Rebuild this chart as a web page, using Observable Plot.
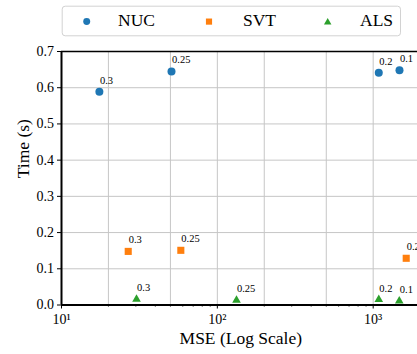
<!DOCTYPE html>
<html>
<head>
<meta charset="utf-8">
<script src="https://cdn.jsdelivr.net/npm/d3@7"></script>
<script src="https://cdn.jsdelivr.net/npm/@observablehq/plot@0.6"></script>
<style>
html, body { margin: 0; padding: 0; background: #fff; overflow: hidden; }
#legend svg, #chart svg { display: block; }
#legend svg, #legend svg text, #chart svg, #chart svg text, #chart svg g {
  font-family: "Liberation Serif", "Times New Roman", serif !important;
  font-variant: normal !important;
}
</style>
</head>
<body>
<div id="legend"></div>
<div id="chart"></div>
<script>
// ---- data ----
const methods = ["NUC", "SVT", "ALS"];
const colors = ["#1f77b4", "#ff7f0e", "#2ca02c"];
const symbols = ["circle", "square", "triangle"];
const markerR = [4, 4, 3.2];

const nucParam = ["0.3", "0.25", "0.2", "0.1"];
const nucMSE   = [17.5, 50.8, 1086, 1475];
const nucTime  = [0.589, 0.645, 0.641, 0.648];

const svtParam = ["0.3", "0.25", "0.2"];
const svtMSE   = [26.8, 58.3, 1629];
const svtTime  = [0.148, 0.151, 0.129];

const alsParam = ["0.3", "0.25", "0.2", "0.1"];
const alsMSE   = [30.3, 132.7, 1086, 1470];
const alsTime  = [0.016, 0.013, 0.015, 0.011];

const xMajorTicks = [10, 100, 1000];
const xMinorTicks = [20, 30, 40, 50, 60, 70, 80, 90, 200, 300, 400, 500, 600, 700, 800, 900, 2000];
const xGridLines = [20, 50, 100, 200, 500, 1000, 2000];
const yTicks = [0, 0.1, 0.2, 0.3, 0.4, 0.5, 0.6, 0.7];
const yGridLines = [0.1, 0.2, 0.3, 0.4, 0.5, 0.6];
const supDigits = {1: "\u00b9", 2: "\u00b2", 3: "\u00b3"};

// ---- table ----
const rows = [];
const groups = [[nucParam, nucMSE, nucTime], [svtParam, svtMSE, svtTime], [alsParam, alsMSE, alsTime]];
groups.forEach(([p, m, t], gi) => {
  p.forEach((param, i) => rows.push({method: methods[gi], param, mse: m[i], time: t[i], r: markerR[gi]}));
});

const FONT = '"Liberation Serif", "Times New Roman", serif';

// ---- legend (above the chart) ----
const leg = d3.select("#legend").append("svg")
  .attr("width", 417).attr("height", 40)
  .style("font-family", FONT);
leg.append("rect")
  .attr("x", 62.2).attr("y", 6.2).attr("width", 338.3).attr("height", 29.6)
  .attr("rx", 3).attr("fill", "#fff").attr("stroke", "#d2d2d2").attr("stroke-width", 1);
const legMarkerX = [86.7, 209, 327.7];
const legTextX = [118, 243, 360];
const d3Sym = {circle: d3.symbolCircle, square: d3.symbolSquare, triangle: d3.symbolTriangle};
methods.forEach((m, i) => {
  leg.append("path")
    .attr("d", d3.symbol(d3Sym[symbols[i]], symbols[i] === "triangle" ? 24 : 38)())
    .attr("transform", `translate(${legMarkerX[i]},${symbols[i] === "triangle" ? 22.3 : 21.6})`)
    .attr("fill", colors[i]);
  leg.append("text")
    .attr("x", legTextX[i]).attr("y", 26)
    .attr("font-size", 17.5).attr("fill", "#000")
    .text(m);
});

// ---- chart ----
const chart = Plot.plot({
  width: 430,
  height: 314,
  marginTop: 11,
  marginBottom: 49.5,
  marginLeft: 61,
  marginRight: 10.4,
  style: {fontFamily: FONT, fontSize: "14px", color: "#000", background: "#fff", maxWidth: "none"},
  x: {type: "log", domain: [10, 2000]},
  y: {domain: [0, 0.7]},
  r: {type: "identity"},
  color: {domain: methods, range: colors},
  symbol: {domain: methods, range: symbols},
  marks: [
    Plot.gridX(xGridLines, {stroke: "#c6c6c6", strokeOpacity: 1, strokeWidth: 1}),
    Plot.gridY(yGridLines, {stroke: "#c6c6c6", strokeOpacity: 1, strokeWidth: 1}),
    Plot.axisX(xMajorTicks, {tickSize: 4, tickPadding: 5.5, fontSize: 14, fontFamily: FONT, label: null,
      tickFormat: d => "10" + supDigits[Math.round(Math.log10(d))]}),
    Plot.axisX(xMinorTicks, {tickSize: 2, tickFormat: () => "", label: null}),
    Plot.axisY(yTicks, {tickSize: 4, tickPadding: 3.5, fontSize: 14, fontFamily: FONT, label: null, tickFormat: d3.format(".1f")}),
    Plot.text(["MSE (Log Scale)"], {frameAnchor: "bottom", dy: 38.5, lineAnchor: "bottom", fontSize: 17.5, fontFamily: FONT, fill: "#000"}),
    Plot.text(["Time (s)"], {frameAnchor: "left", rotate: -90, dx: -44.7, lineAnchor: "top", fontSize: 17.5, fontFamily: FONT, fill: "#000"}),
    Plot.ruleY([0.7], {stroke: "#000", strokeWidth: 1.3}),
    Plot.ruleX([10], {stroke: "#000", strokeWidth: 2}),
    Plot.ruleY([0], {stroke: "#000", strokeWidth: 2}),
    Plot.dot(rows, {x: "mse", y: "time", fill: "method", symbol: "method", r: "r"}),
    Plot.text(rows, {x: "mse", y: "time", text: "param", textAnchor: "start", lineAnchor: "bottom",
      dx: 0.5, dy: -8, fontSize: 10.5, fontFamily: FONT, fill: "#000"})
  ]
});
document.getElementById("chart").appendChild(chart);
</script>
</body>
</html>
